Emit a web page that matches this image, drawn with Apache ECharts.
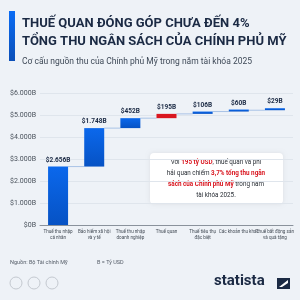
<!DOCTYPE html>
<html>
<head>
<meta charset="utf-8">
<script src="https://cdn.jsdelivr.net/npm/echarts@6/dist/echarts.min.js"></script>
<style>
  html, body { margin: 0; padding: 0; background: #eef2f7; }
  #chart { width: 300px; height: 300px; }
</style>
</head>
<body>
<div id="chart"></div>
<script>
// Ngân sách liên bang Mỹ, tài khóa 2025 (tỷ USD)
const categories = [
    'Thuế thu nhập\ncá nhân',
    'Bảo hiểm xã hội\nvà y tế',
    'Thuế thu nhập\ndoanh nghiệp',
    'Thuế quan',
    'Thuế tiêu thụ\nđặc biệt',
    'Các khoản thu khác',
    'Thuế bất động sản\nvà quà tặng'
];
const values = [2656, 1748, 452, 195, 106, 60, 29];
const valueLabels = ['$2.656B', '$1.748B', '$452B', '$195B', '$106B', '$60B', '$29B'];
const yTicks = [0, 1000, 2000, 3000, 4000, 5000, 6000];
const highlightIndex = 3;

const BLUE_TOP = '#0b68ec';
const BLUE_BOTTOM = '#0652c4';
const RED = '#d9161f';
const NAVY = '#1b2a44';
const FONT = 'Roboto, "Noto Sans", sans-serif';

// bases for the waterfall
let bases = [];
let ends = [];
let running = 0;
values.forEach(function (v) {
    bases.push(running);
    running += v;
    ends.push(running);
});

let chart = echarts.init(document.getElementById('chart'));

let option = {
    backgroundColor: '#eef2f7',
    animation: false,
    textStyle: { fontFamily: FONT },
    grid: { left: 40, right: 7, top: 93, bottom: 75 },
    xAxis: {
        type: 'category',
        data: categories,
        axisTick: { show: false },
        axisLine: { lineStyle: { color: '#8a929c', width: 1 } },
        axisLabel: {
            interval: 0,
            fontSize: 4.6,
            lineHeight: 6,
            color: '#444c56',
            margin: 4
        }
    },
    yAxis: {
        type: 'value',
        min: 0,
        max: yTicks[yTicks.length - 1],
        interval: 1000,
        axisLabel: {
            fontSize: 7,
            color: '#4a525c',
            margin: 4,
            formatter: function (v) {
                return '$' + (v === 0 ? '0' : (v / 1000) + '.000') + 'B';
            }
        },
        splitLine: { lineStyle: { color: '#dfe5ec', width: 1 } }
    },
    series: [
        {
            type: 'bar',
            stack: 'w',
            barWidth: 20,
            silent: true,
            itemStyle: { color: 'transparent' },
            data: bases
        },
        {
            type: 'bar',
            stack: 'w',
            barWidth: 20,
            barMinHeight: 2,
            data: values.map(function (v, i) {
                return {
                    value: v,
                    itemStyle: {
                        color: i === highlightIndex ? RED : new echarts.graphic.LinearGradient(0, 0, 0, 1, [
                            { offset: 0, color: BLUE_TOP },
                            { offset: 1, color: BLUE_BOTTOM }
                        ])
                    }
                };
            }),
            label: {
                show: true,
                position: 'top',
                distance: 3,
                fontSize: 6.5,
                fontWeight: 'bold',
                color: NAVY,
                formatter: function (p) { return valueLabels[p.dataIndex]; }
            }
        },
        {
            // connector lines between bars
            type: 'custom',
            silent: true,
            z: 1,
            data: ends.slice(0, ends.length - 1).map(function (e, i) { return [i, e]; }),
            renderItem: function (params, api) {
                let a = api.coord([api.value(0), api.value(1)]);
                let b = api.coord([api.value(0) + 1, api.value(1)]);
                return {
                    type: 'line',
                    shape: { x1: a[0] + 10, y1: a[1], x2: b[0] - 10, y2: b[1] },
                    style: { stroke: '#a9c3e6', lineWidth: 1 }
                };
            }
        }
    ],
    graphic: [
        {
            type: 'rect',
            shape: { x: 9, y: 11, width: 6, height: 50 },
            style: {
                fill: new echarts.graphic.LinearGradient(0, 0, 0, 1, [
                    { offset: 0, color: '#0a6cf5' },
                    { offset: 1, color: '#0b4fb8' }
                ])
            }
        },
        {
            type: 'text',
            left: 22,
            top: 15,
            style: {
                text: 'THUẾ QUAN ĐÓNG GÓP CHƯA ĐẾN 4%\nTỔNG THU NGÂN SÁCH CỦA CHÍNH PHỦ MỸ',
                font: 'bold 13px ' + FONT,
                lineHeight: 18,
                fill: NAVY
            }
        },
        {
            type: 'text',
            left: 22,
            top: 57,
            style: {
                text: 'Cơ cấu nguồn thu của Chính phủ Mỹ trong năm tài khóa 2025',
                font: '8.5px ' + FONT,
                fill: '#3f4a58'
            }
        },
        {
            type: 'rect',
            shape: { x: 150, y: 153, width: 133, height: 51, r: 4 },
            style: { fill: '#ffffff', shadowBlur: 4, shadowColor: 'rgba(0,0,0,0.08)' }
        },
        {
            type: 'text',
            x: 216,
            y: 157,
            style: {
                text: 'Với {r|195 tỷ USD}, thuế quan và phí\nhải quan chiếm {r|3,7% tổng thu ngân}\n{r|sách của Chính phủ Mỹ} trong năm\ntài khóa 2025.',
                align: 'center',
                fontSize: 6.3,
                lineHeight: 11,
                fontFamily: FONT,
                fill: '#2a2f36',
                rich: {
                    r: { fontSize: 6.3, fontWeight: 'bold', fill: RED, fontFamily: FONT, lineHeight: 11 }
                }
            }
        },
        {
            type: 'text',
            left: 10,
            top: 260,
            style: { text: 'Nguồn: Bộ Tài chính Mỹ', font: '5.5px ' + FONT, fill: '#555d68' }
        },
        {
            type: 'text',
            left: 97,
            top: 260,
            style: { text: 'B = Tỷ USD', font: '5.5px ' + FONT, fill: '#555d68' }
        },
        {
            type: 'group',
            children: [0, 1, 2].map(function (k) {
                return {
                    type: 'circle',
                    shape: { cx: 16 + k * 18, cy: 283, r: 6 },
                    style: { fill: 'none', stroke: '#c4c9d0', lineWidth: 1 }
                };
            })
        },
        {
            type: 'text',
            left: 214,
            top: 274,
            style: { text: 'statista', font: 'bold 15px ' + FONT, fill: NAVY }
        },
        {
            type: 'rect',
            shape: { x: 277, y: 278, width: 13, height: 11 },
            style: { fill: NAVY }
        },
        {
            type: 'polygon',
            shape: { points: [[279, 287], [288, 280], [288, 283], [282, 287]] },
            style: { fill: '#ffffff' }
        }
    ]
};

chart.setOption(option);

window.addEventListener('resize', function () {
    chart.resize();
});
</script>
</body>
</html>
